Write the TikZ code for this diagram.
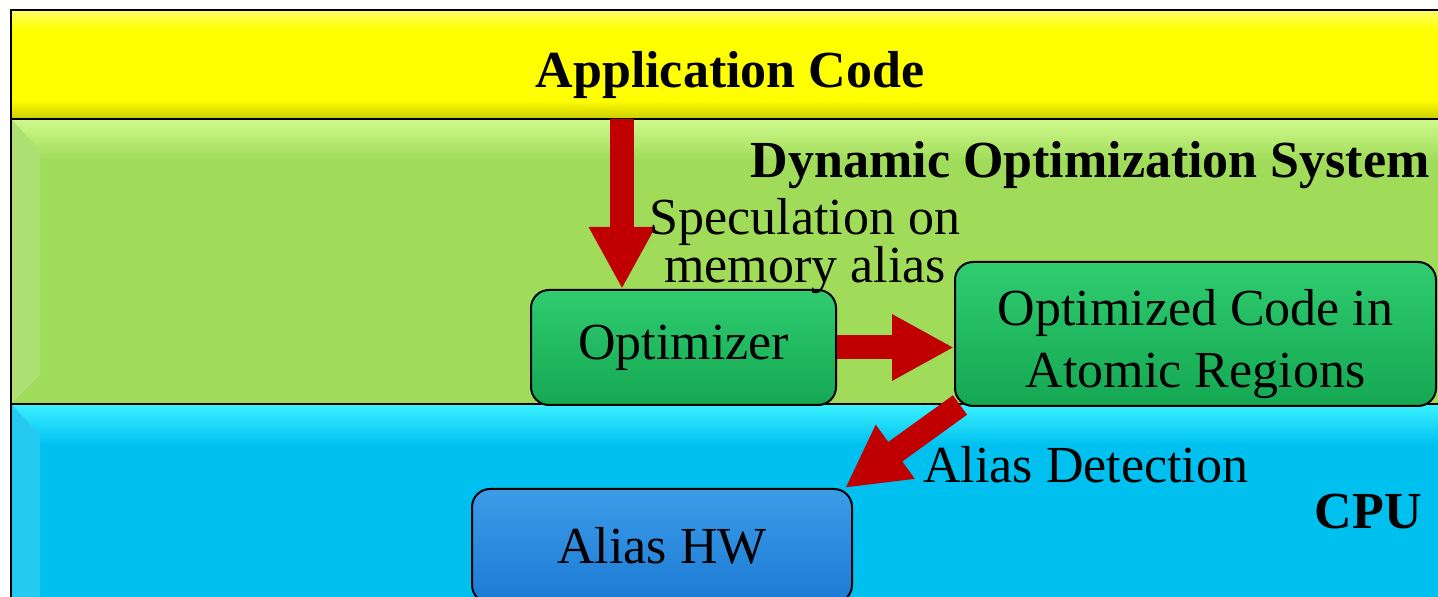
\documentclass[tikz,border=0pt]{standalone}
\usepackage{fontspec}
\setmainfont{Liberation Serif}
\usetikzlibrary{arrows.meta,positioning}
\definecolor{layyellow}{RGB}{255,255,0}
\definecolor{laygreen}{RGB}{160,220,90}
\definecolor{laygreenhi}{RGB}{208,250,140}
\definecolor{layblue}{RGB}{0,192,240}
\definecolor{laybluehi}{RGB}{60,242,255}
\definecolor{boxgreen}{RGB}{20,168,82}
\definecolor{boxgreenhi}{RGB}{48,204,112}
\definecolor{boxblue}{RGB}{28,122,212}
\definecolor{boxbluehi}{RGB}{60,156,232}
\definecolor{arrred}{RGB}{192,0,0}

\tikzset{
  unit/.style={draw=black, line width=1pt, rounded corners=9pt, align=center, inner sep=0pt,
    font=\fontsize{26}{31}\selectfont},
  greenunit/.style={unit, top color=boxgreenhi, bottom color=boxgreen},
  blueunit/.style={unit, top color=boxbluehi, bottom color=boxblue},
  bigarrow/.style={arrred, line width=12pt, -{Triangle[length=31pt,width=31pt]}},
  title/.style={font=\fontsize{26}{30}\selectfont\bfseries, inner sep=0pt},
  note/.style={font=\fontsize{26}{24}\selectfont, align=center, inner sep=0pt},
}

\begin{document}
\begin{tikzpicture}[x=0.5pt, y=-0.5pt]
  \useasboundingbox (0,0) rectangle (1438,597);
  \clip (0,0) rectangle (1438,597);
  \fill[white] (0,0) rectangle (1438,597);

  % layers
  \fill[layyellow] (11,10) rectangle (1460,119);
  \shade[top color=yellow!60!white, bottom color=layyellow] (11,10) rectangle (1460,30);
  \shade[top color=layyellow, bottom color=layyellow!80!black] (11,100) rectangle (1460,119);
  \fill[laygreen] (11,119) rectangle (1460,404);
  \shade[top color=laygreenhi, bottom color=laygreen] (11,119) rectangle (1460,160);
  \fill[laygreen!85!white] (11,119) -- (40,150) -- (40,375) -- (11,404) -- cycle;
  \fill[layblue] (11,404) rectangle (1460,610);
  \shade[top color=laybluehi, bottom color=layblue] (11,404) rectangle (1460,445);
  \fill[layblue!85!white] (11,404) -- (40,435) -- (40,610) -- (11,610) -- cycle;
  \draw[line width=1pt] (11,119) -- (1460,119) (11,404) -- (1460,404);
  \draw[line width=1.2pt] (11,620) -- (11,10) -- (1460,10);

  % layer titles
  \node[title] (app) at (730,75) {Application Code};
  \node[title, anchor=east] (dos) at (1430,165) {Dynamic Optimization System};
  \node[title, anchor=east] (cpu) at (1422,512) {CPU};

  % units
  \node[greenunit, minimum width=152.5pt, minimum height=57.5pt] (opt) at (683.5,347.5) {Optimizer};
  \node[greenunit, minimum width=240.5pt, minimum height=72pt] (optc) at (1195.5,334)
    {\raisebox{-11.5pt}[0pt][0pt]{\begin{tabular}{@{}c@{}}Optimized Code in\\Atomic Regions\end{tabular}}};
  \node[blueunit, minimum width=190pt, minimum height=57pt] (hw) at (662,546) {Alias HW};

  % flow
  \coordinate (dn) at (622,119);
  \draw[bigarrow] (dn) -- (dn |- opt.north);
  \draw[bigarrow] (opt.east) -- (opt.east -| optc.west);
  \draw[bigarrow] ([xshift=3pt,yshift=1pt]optc.south west) -- ([xshift=-4pt]hw.north east);

  % labels
  \node[note] (spec) at (805,246) {Speculation on\\memory alias};
  \node[note, anchor=west] (det) at (923,465) {Alias Detection};
\end{tikzpicture}
\end{document}
